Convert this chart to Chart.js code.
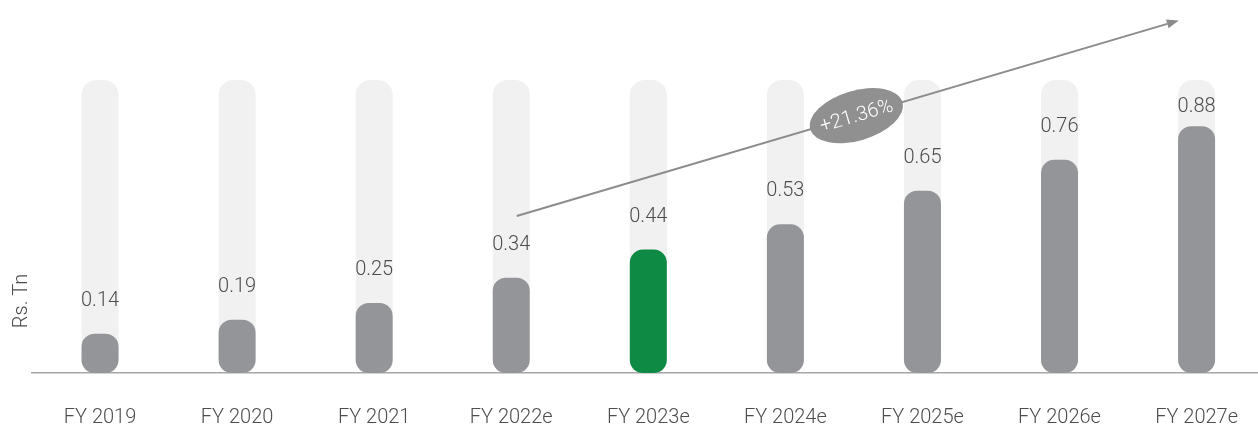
<!DOCTYPE html>
<html>
<head>
<meta charset="utf-8">
<script src="https://cdn.jsdelivr.net/npm/chart.js@4.4.1/dist/chart.umd.min.js"></script>
<style>
  html, body { margin: 0; padding: 0; background: #ffffff; overflow: hidden; }
  #wrap { position: relative; width: 1272px; height: 424px; }
</style>
</head>
<body>
<div id="wrap"><canvas id="c" width="1272" height="424"></canvas></div>
<script>
// ---- data ----
const categories = ['FY 2019', 'FY 2020', 'FY 2021', 'FY 2022e', 'FY 2023e', 'FY 2024e', 'FY 2025e', 'FY 2026e', 'FY 2027e'];
const values = [0.14, 0.19, 0.25, 0.34, 0.44, 0.53, 0.65, 0.76, 0.88];
const valueLabels = ['0.14', '0.19', '0.25', '0.34', '0.44', '0.53', '0.65', '0.76', '0.88'];
const trackValue = 1.045;
const highlightIndex = 4;
const axisTitle = 'Rs. Tn';
const growthLabel = '+21.36%';
const arrowFrom = [3.04, 0.56];   // [category index, value]
const arrowTo = [7.87, 1.257];
const growthAt = 0.513;           // fraction along the arrow

const GREY = '#939598';
const GREEN = '#0e8a45';
const TRACK = '#f0f1f0';
const TEXT = '#4d4d4d';
const FONT = "Roboto, 'Noto Sans', sans-serif";

const barColors = values.map((v, i) => i === highlightIndex ? GREEN : GREY);

const overlay = {
  id: 'overlay',
  afterDatasetsDraw(chart) {
    const ctx = chart.ctx;
    const xs = chart.scales.x, ys = chart.scales.y;
    const barMeta = chart.getDatasetMeta(0);
    const trackMeta = chart.getDatasetMeta(1);
    ctx.save();
    // value labels
    ctx.font = '300 20px ' + FONT;
    ctx.fillStyle = TEXT;
    ctx.textAlign = 'center';
    ctx.textBaseline = 'middle';
    barMeta.data.forEach((bar, i) => {
      const trackTop = trackMeta.data[i].y;
      const y = Math.max(bar.y - 33, trackTop + 27);
      ctx.fillText(valueLabels[i], bar.x, y);
    });
    // y axis title
    ctx.save();
    ctx.translate(22, 301);
    ctx.rotate(-Math.PI / 2);
    ctx.font = '300 20px ' + FONT;
    ctx.fillText(axisTitle, 0, 0);
    ctx.restore();
    // arrow
    const x1 = xs.getPixelForValue(arrowFrom[0]), y1 = ys.getPixelForValue(arrowFrom[1]);
    const x2 = xs.getPixelForValue(arrowTo[0]), y2 = ys.getPixelForValue(arrowTo[1]);
    const ang = Math.atan2(y2 - y1, x2 - x1);
    ctx.strokeStyle = '#8c8c8c';
    ctx.fillStyle = '#8c8c8c';
    ctx.lineWidth = 2;
    const hl = 12, hw = 4.5;
    const bx = x2 - hl * Math.cos(ang), by = y2 - hl * Math.sin(ang);
    ctx.beginPath();
    ctx.moveTo(x1, y1);
    ctx.lineTo(bx, by);
    ctx.stroke();
    ctx.beginPath();
    ctx.moveTo(x2, y2);
    ctx.lineTo(bx + hw * Math.sin(ang), by - hw * Math.cos(ang));
    ctx.lineTo(bx - hw * Math.sin(ang), by + hw * Math.cos(ang));
    ctx.closePath();
    ctx.fill();
    // growth ellipse
    const cx = x1 + (x2 - x1) * growthAt, cy = y1 + (y2 - y1) * growthAt;
    ctx.save();
    ctx.translate(cx, cy);
    ctx.rotate(ang);
    ctx.fillStyle = '#909090';
    ctx.beginPath();
    ctx.ellipse(0, 0, 48, 25, 0, 0, Math.PI * 2);
    ctx.fill();
    ctx.fillStyle = '#ffffff';
    ctx.font = '300 20px ' + FONT;
    ctx.textAlign = 'center';
    ctx.textBaseline = 'middle';
    ctx.fillText(growthLabel, 0, 1);
    ctx.restore();
    ctx.restore();
  }
};

new Chart(document.getElementById('c'), {
  type: 'bar',
  data: {
    labels: categories,
    datasets: [
      {
        data: values,
        backgroundColor: barColors,
        borderRadius: 13,
        borderSkipped: false,
        barPercentage: 0.27,
        categoryPercentage: 1,
        grouped: false,
        order: 1
      },
      {
        data: values.map(() => trackValue),
        backgroundColor: TRACK,
        borderRadius: 15,
        borderSkipped: false,
        barPercentage: 0.27,
        categoryPercentage: 1,
        grouped: false,
        order: 2
      }
    ]
  },
  options: {
    responsive: false,
    maintainAspectRatio: false,
    animation: false,
    events: [],
    layout: { padding: { left: 31.5, right: 0, top: 0, bottom: 0 } },
    plugins: { legend: { display: false }, tooltip: { enabled: false } },
    scales: {
      x: {
        offset: true,
        grid: { display: false, drawTicks: false },
        border: { display: true, color: '#a6a6a6', width: 1.5 },
        ticks: { color: TEXT, padding: 34, maxRotation: 0, autoSkip: false, font: { family: FONT, size: 20, weight: '300', lineHeight: 1.1 } },
        afterFit(scale) { scale.height = 51; }
      },
      y: {
        display: false,
        min: 0,
        max: 1.33
      }
    }
  },
  plugins: [overlay]
});
</script>
</body>
</html>
